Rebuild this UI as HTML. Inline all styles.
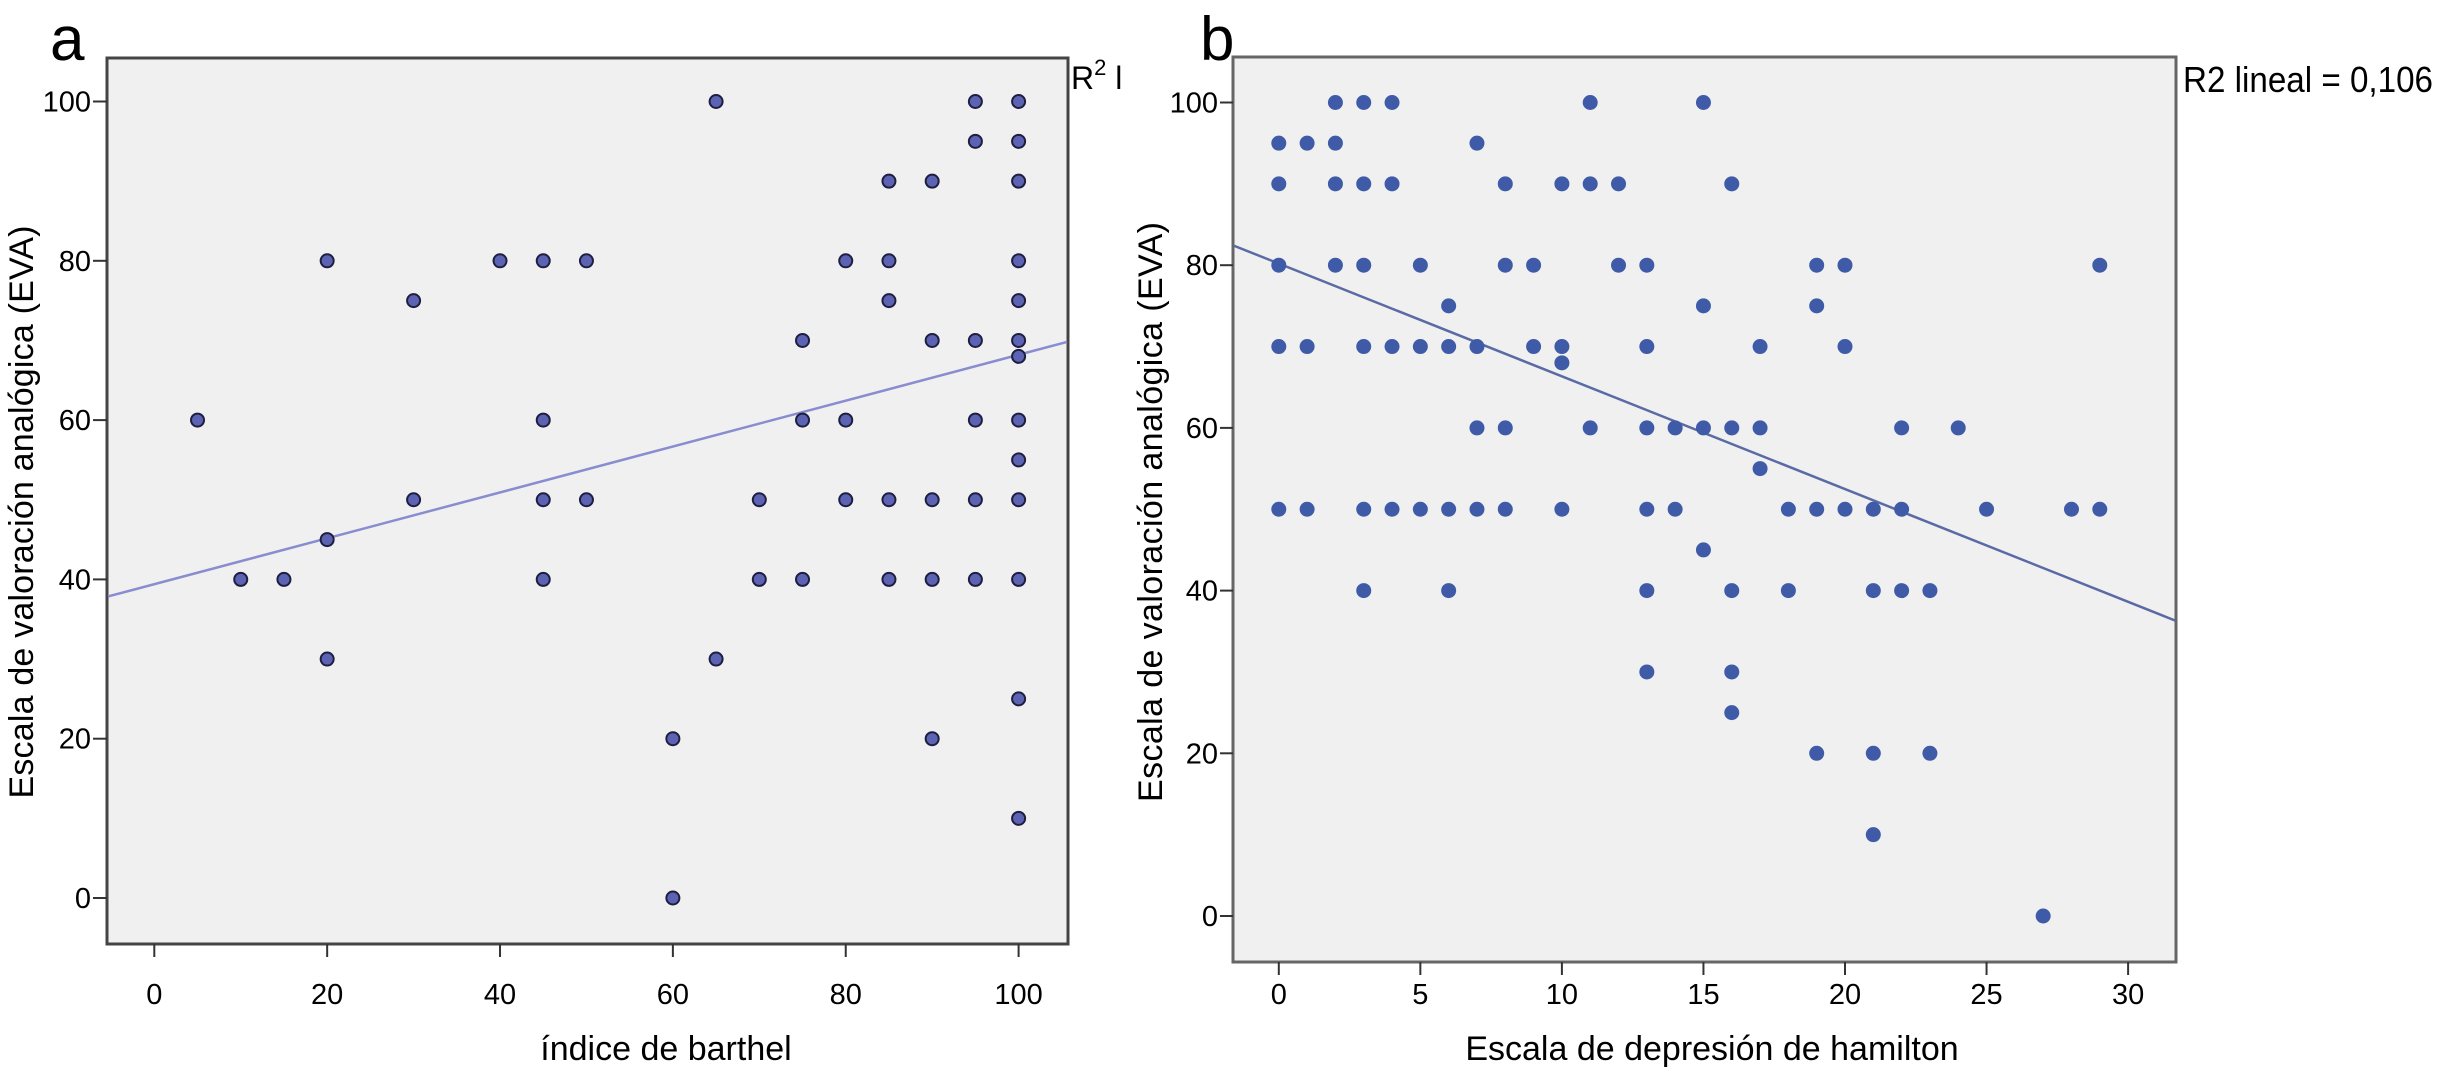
<!DOCTYPE html>
<html><head><meta charset="utf-8"><style>
html,body{margin:0;padding:0;background:#fff}
svg{display:block;font-family:"Liberation Sans",sans-serif}
</style></head><body>
<svg id="c" width="2443" height="1071" viewBox="0 0 2443 1071">
<text x="50" y="60" font-size="62">a</text>
<text x="1200" y="60" font-size="62">b</text>
<rect x="107" y="58" width="961" height="886" fill="#f0f0f0" stroke="#444" stroke-width="3"/>
<rect x="1233" y="57" width="943" height="905" fill="#f0f0f0" stroke="#666" stroke-width="3"/>
<g id="ga"></g><g id="gb"></g>
<text x="1071" y="89" font-size="32">R<tspan dy="-14" font-size="22">2</tspan><tspan dy="14"> l</tspan></text>
<text x="2183" y="92" font-size="36" textLength="250" lengthAdjust="spacingAndGlyphs">R2 lineal = 0,106</text>
<text x="666" y="1060" font-size="34" text-anchor="middle">índice de barthel</text>
<text x="1712" y="1060" font-size="34" text-anchor="middle">Escala de depresión de hamilton</text>
<text transform="translate(33,512) rotate(-90)" font-size="34" text-anchor="middle" textLength="573">Escala de valoración analógica (EVA)</text>
<text transform="translate(1162,512) rotate(-90)" font-size="34" text-anchor="middle" textLength="580">Escala de valoración analógica (EVA)</text>
</svg>
<script>
const aX=[5,10,15,20,20,20,30,30,40,45,45,45,45,50,50,60,60,65,65,70,70,75,75,75,80,80,80,85,85,85,85,85,90,90,90,90,90,95,95,95,95,95,95,100,100,100,100,100,100,100,100,100,100,100,100,100];
const aY=[60,40,40,80,45,30,75,50,80,80,60,50,40,80,50,20,0,100,30,50,40,70,60,40,80,60,50,90,80,75,50,40,90,70,50,40,20,100,95,70,60,50,40,100,95,90,80,75,70,68,60,55,50,40,25,10];
const bX=[2,3,4,11,15, 0,1,2,7, 0,2,3,4,8,10,11,12,16, 0,2,3,5,8,9,12,13,19,20,29, 6,15,19, 0,1,3,4,5,6,7,9,10,13,17,20, 10, 7,8,11,13,14,15,16,17,22,24, 17, 0,1,3,4,5,6,7,8,10,13,14,18,19,20,21,22,25,28,29, 15, 3,6,13,16,18,21,22,23, 13,16, 16, 19,21,23, 21, 27];
const bY=[100,100,100,100,100, 95,95,95,95, 90,90,90,90,90,90,90,90,90, 80,80,80,80,80,80,80,80,80,80,80, 75,75,75, 70,70,70,70,70,70,70,70,70,70,70,70, 68, 60,60,60,60,60,60,60,60,60,60, 55, 50,50,50,50,50,50,50,50,50,50,50,50,50,50,50,50,50,50,50, 45, 40,40,40,40,40,40,40,40, 30,30, 25, 20,20,20, 10, 0];
const aXTicks=[0,20,40,60,80,100], aYTicks=[0,20,40,60,80,100];
const bXTicks=[0,5,10,15,20,25,30], bYTicks=[0,20,40,60,80,100];
const aFit=[39.4,0.288], bFit=[80.2,-1.386];
const NS="http://www.w3.org/2000/svg";
function mk(p,t,at){const e=document.createElementNS(NS,t);for(const k in at)e.setAttribute(k,at[k]);p.appendChild(e);return e;}
const ax=v=>154.3+v*8.643, ay=v=>898-v*7.965;
const bx=v=>1278.8+v*28.31, by=v=>916-v*8.135;
const ga=document.getElementById('ga'), gb=document.getElementById('gb');
aXTicks.forEach(v=>{const l=mk(ga,'line',{x1:ax(v),x2:ax(v),y1:944,y2:957,stroke:'#333','stroke-width':2});


const t=mk(ga,'text',{x:ax(v),y:1004,'font-size':29,'text-anchor':'middle'});t.textContent=v;

});
aYTicks.forEach(v=>{const l=mk(ga,'line',{x1:93,x2:107,y1:ay(v),y2:ay(v),stroke:'#333','stroke-width':2});


const t=mk(ga,'text',{x:91,y:ay(v)+10,'font-size':29,'text-anchor':'end'});t.textContent=v;

});
const la=mk(ga,'line',{x1:108,x2:1067,y1:ay(aFit[0]+aFit[1]*((108-154.3)/8.643)),y2:ay(aFit[0]+aFit[1]*((1067-154.3)/8.643)),stroke:'#8a8cd0','stroke-width':2.5});


aX.forEach((v,i)=>{const c=mk(ga,'circle',{cx:ax(v),cy:ay(aY[i]),r:6.5,fill:'#5c63b3',stroke:'#1e1e40','stroke-width':2});

});
bXTicks.forEach(v=>{const l=mk(gb,'line',{x1:bx(v),x2:bx(v),y1:962,y2:975,stroke:'#333','stroke-width':2});


const t=mk(gb,'text',{x:bx(v),y:1004,'font-size':29,'text-anchor':'middle'});t.textContent=v;

});
bYTicks.forEach(v=>{const l=mk(gb,'line',{x1:1220,x2:1233,y1:by(v),y2:by(v),stroke:'#333','stroke-width':2});


const t=mk(gb,'text',{x:1218,y:by(v)+10,'font-size':29,'text-anchor':'end'});t.textContent=v;

});
const lb=mk(gb,'line',{x1:1234,x2:2175,y1:by(bFit[0]+bFit[1]*((1234-1278.8)/28.31)),y2:by(bFit[0]+bFit[1]*((2175-1278.8)/28.31)),stroke:'#5a6aa5','stroke-width':2.5});


bX.forEach((v,i)=>{const c=mk(gb,'ellipse',{cx:bx(v),cy:by(bY[i]),rx:7.5,ry:7.5,fill:'#3f5ba8'});

});
</script>
</body></html>
